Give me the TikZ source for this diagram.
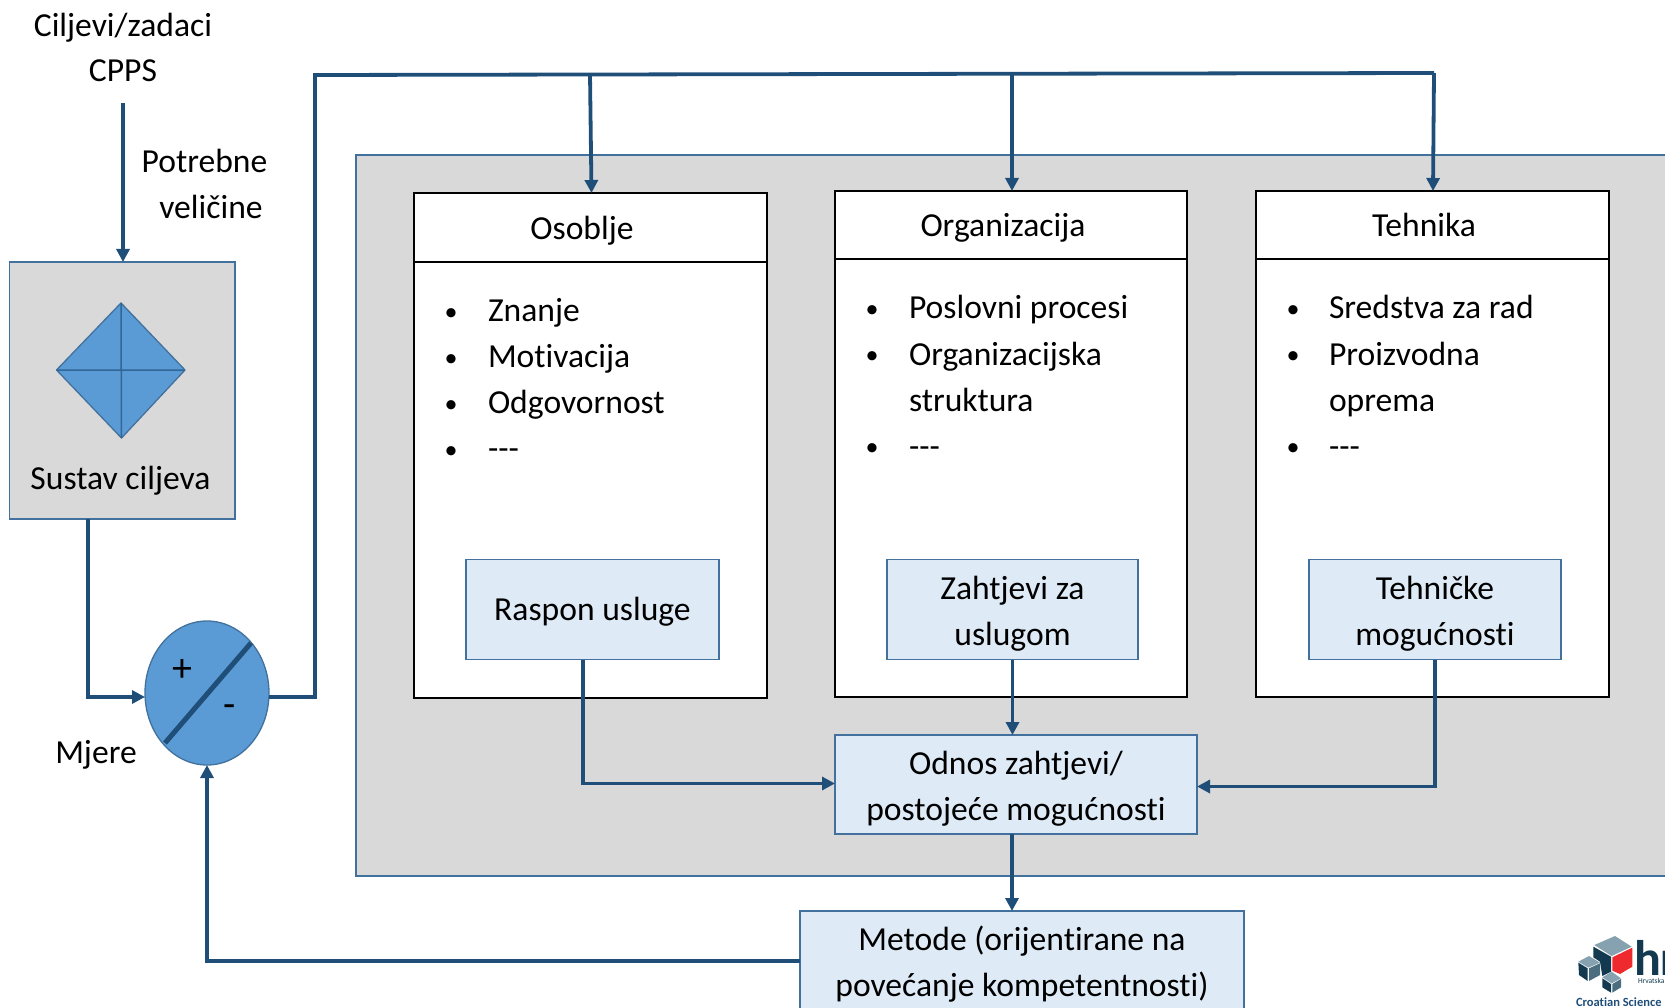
\documentclass[tikz,border=0pt]{standalone}
\usepackage{fontspec}
\setmainfont[Ligatures=NoCommon]{Carlito}
\usetikzlibrary{arrows.meta,shapes.geometric}
\definecolor{conn}{HTML}{1F4E79}
\definecolor{edge}{HTML}{41719C}
\definecolor{inner}{HTML}{2F6697}
\definecolor{panelgray}{HTML}{D9D9D9}
\definecolor{lightblue}{HTML}{DEEBF7}
\definecolor{midblue}{HTML}{5B9BD5}
\definecolor{navy}{HTML}{12394F}
\definecolor{steel}{HTML}{86A1AF}
\definecolor{steeld}{HTML}{4A6D80}
\definecolor{logored}{HTML}{EE2A2E}
\newcommand{\firstline}{\rule{0pt}{31pt}}
\tikzset{
 x=1pt,y=-1pt,
 every node/.style={font=\fontsize{33.6}{46}\selectfont,inner sep=0pt,outer sep=0pt},
 conn/.style={draw=conn,line width=3.8pt,line join=miter,-{Triangle[length=13pt,width=13pt]}},
 plainconn/.style={draw=conn,line width=3.8pt,line join=miter},
 panel/.style={draw=edge,line width=1.6pt,fill=panelgray,rectangle},
 whitebox/.style={draw=black,line width=1.6pt,fill=white,rectangle},
 headbox/.style={whitebox},
 headtext/.style={anchor=base},
 bluebox/.style={draw=edge,line width=1.6pt,fill=lightblue,rectangle,align=center},
 item/.style={anchor=base west},
 dot/.style={anchor=base,font=\fontsize{26}{30}\selectfont},
 logotext/.style={text=navy,anchor=base west}
}
\begin{document}
\begin{tikzpicture}
\useasboundingbox (0,0) rectangle (1665,1008);
\begin{scope}
\clip (0,0) rectangle (1665,1008);
% grey panel
\node[panel,minimum width=1340pt,minimum height=721pt] (panel) at (1026,515.5) {};
% left block
\node[panel,minimum width=225.5pt,minimum height=257pt] (sustav) at (122.25,390.5) {};
\coordinate (dT) at (121,303);
\coordinate (dR) at (185,370);
\coordinate (dB) at (121.5,438);
\coordinate (dL) at (56.5,370);
\draw[draw=edge,line width=1.3pt,fill=midblue,line join=round] (dT)--(dR)--(dB)--(dL)--cycle;
\draw[draw=inner,line width=1.5pt] (dT)--(dB) (dL)--(dR);
\node[anchor=base] (sustavt) at (120.5,489) {Sustav ciljeva};
% top labels
\node[anchor=base] (cilj1) at (123,37) {Ciljevi/zadaci};
\node[anchor=base] (cilj2) at (123,82) {CPPS};
\coordinate (ciljout) at (123,103);
\node[anchor=base] (potr1) at (204.5,173) {Potrebne};
\node[anchor=base] (potr2) at (211,219) {veličine};
\node[anchor=base] (mjere) at (96,763) {Mjere};
% circle
\node[ellipse,draw=edge,line width=1.3pt,fill=midblue,minimum width=124pt,minimum height=144pt] (krug) at (207,693) {};
\coordinate (s1) at (251,643);
\coordinate (s2) at (165,743);
\draw[conn,-,line width=5pt] (s1)--(s2);
\node[anchor=base] (plus) at (182,681) {\fontsize{40}{40}\selectfont +};
\node[anchor=base] (minus) at (230,717) {\fontsize{40}{40}\selectfont -};
% three columns
\node[whitebox,minimum width=353pt,minimum height=436pt] (osB) at (590.5,480) {};
\node[headbox,minimum width=353pt,minimum height=69pt] (os) at (590.5,227.5) {};
\node[headtext] (ost) at (582,240) {Osoblje};
\node[whitebox,minimum width=352pt,minimum height=438pt] (orB) at (1011,478) {};
\node[headbox,minimum width=352pt,minimum height=68pt] (or) at (1011,225) {};
\node[headtext] (ort) at (1003,237) {Organizacija};
\node[whitebox,minimum width=353pt,minimum height=438pt] (teB) at (1432.5,478) {};
\node[headbox,minimum width=353pt,minimum height=68pt] (te) at (1432.5,225) {};
\node[headtext] (tet) at (1424,237) {Tehnika};
% lists
\node[dot] (b11) at (451,320) {•}; \node[item] (i11) at (488,322) {Znanje};
\node[dot] (b12) at (451,366) {•}; \node[item] (i12) at (488,367) {Motivacija};
\node[dot] (b13) at (451,412) {•}; \node[item] (i13) at (488,413) {Odgovornost};
\node[dot] (b14) at (451,458) {•}; \node[item] (i14) at (488,459) {-{}-{}-};
\node[dot] (b21) at (872,317) {•}; \node[item] (i21) at (909,319) {Poslovni procesi};
\node[dot] (b22) at (872,363) {•}; \node[item] (i22) at (909,365) {Organizacijska};
\node[item] (i23) at (909,411) {struktura};
\node[dot] (b24) at (872,455) {•}; \node[item] (i24) at (909,457) {-{}-{}-};
\node[dot] (b31) at (1293,317) {•}; \node[item] (i31) at (1329,319) {Sredstva za rad};
\node[dot] (b32) at (1293,363) {•}; \node[item] (i32) at (1329,365) {Proizvodna};
\node[item] (i33) at (1329,411) {oprema};
\node[dot] (b34) at (1293,455) {•}; \node[item] (i34) at (1329,457) {-{}-{}-};
% blue boxes
\node[bluebox,minimum width=253pt,minimum height=100pt,text height=27pt,text depth=5pt] (raspon) at (592.5,609.5) {Raspon usluge};
\node[bluebox,minimum width=251pt,minimum height=100pt] (zaht) at (1012.5,609.5) {\firstline Zahtjevi za\\uslugom};
\node[bluebox,minimum width=252pt,minimum height=100pt] (tehn) at (1435,609.5) {\firstline Tehničke\\mogućnosti};
\node[bluebox,minimum width=362pt,minimum height=99pt] (odnos) at (1016,784.5) {\firstline Odnos zahtjevi/\\postojeće mogućnosti};
\node[bluebox,minimum width=444pt,minimum height=100pt] (metode) at (1022,961) {\firstline Metode (orijentirane na\\povećanje kompetentnosti)};
% connectors
\coordinate (topleft) at (315,75);
\coordinate (topright) at (1434,73);
\draw[conn] (ciljout) -- (ciljout |- sustav.north);
\draw[conn] ([xshift=-34.25pt]sustav.south) |- ([yshift=-4pt]krug.west);
\draw[plainconn] ([yshift=-4pt]krug.east) -| (topleft) -- (topright);
\coordinate (d1) at (590,74);
\coordinate (d2) at (1012,74);
\draw[conn] (d1) -- ([xshift=1pt]os.north);
\draw[conn] (d2) -- (d2 |- or.north);
\draw[conn] (topright) -- ([xshift=-1pt]topright |- te.north);
\draw[conn] ([xshift=-9.5pt]raspon.south) |- ([yshift=1pt]odnos.west);
\draw[conn] (zaht.south) -- (zaht.south |- odnos.north);
\draw[conn] (tehn.south) |- ([yshift=-2pt]odnos.east);
\draw[conn] ([xshift=-4pt]odnos.south) -- ([xshift=-10pt]metode.north);
\draw[conn] (metode.west) -| (krug.south);
% logo
\coordinate (L) at (1465,900);
\begin{scope}[shift={(L)},x=0.3333pt,y=-0.3333pt]
 \fill[steel] (388,135)--(450,108)--(500,140)--(440,168)--cycle;
 \fill[navy] (385,140)--(438,170)--(438,215)--(412,228)--(405,185)--(385,172)--cycle;
 \fill[logored] (442,172)--(502,143)--(502,200)--(465,222)--(442,212)--cycle;
 \fill[steel] (340,185)--(372,168)--(405,188)--(370,203)--cycle;
 \fill[navy] (340,188)--(368,205)--(368,243)--(342,225)--cycle;
 \fill[steeld] (372,205)--(405,190)--(405,225)--(372,243)--cycle;
 \fill[steel] (412,232)--(440,215)--(468,235)--(440,250)--cycle;
 \fill[navy] (412,235)--(438,252)--(438,278)--(412,262)--cycle;
 \fill[steeld] (442,252)--(468,237)--(468,262)--(442,278)--cycle;
\end{scope}
\node[logotext,font=\fontsize{50}{50}\selectfont\bfseries] (logohr) at (1634,975) {hr};
\node[logotext,font=\fontsize{7.5}{8}\selectfont] (logosub) at (1638,983) {Hrvatska};
\node[logotext,text=conn,font=\fontsize{12.5}{14}\selectfont\bfseries] (logoen) at (1576,1006.5) {Croatian Science};
\end{scope}
\end{tikzpicture}
\end{document}
